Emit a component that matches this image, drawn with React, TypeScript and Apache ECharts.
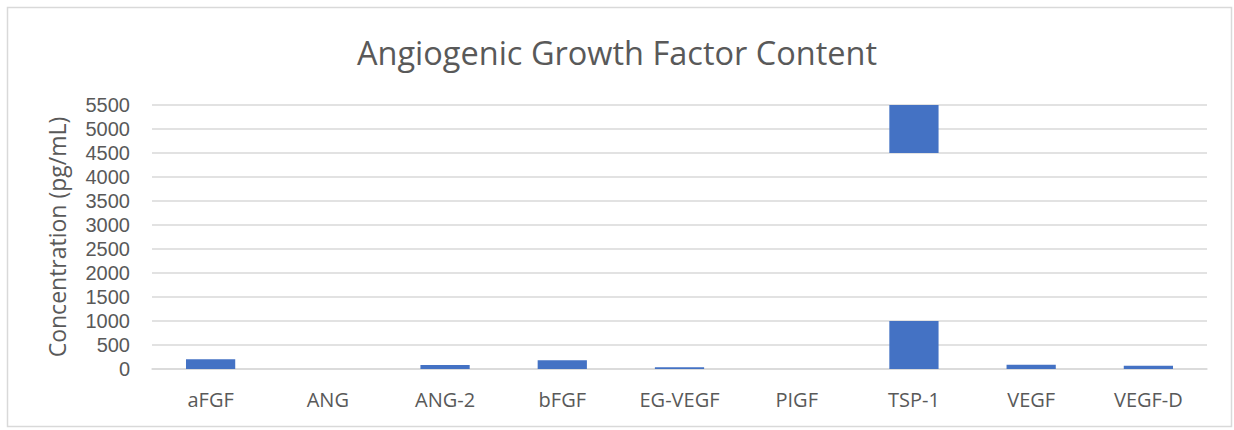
import React, { useEffect, useRef } from "react";
import * as echarts from "echarts";

const categories = ["aFGF", "ANG", "ANG-2", "bFGF", "EG-VEGF", "PIGF", "TSP-1", "VEGF", "VEGF-D"];
const concentrations = [205, 0, 85, 180, 35, 0, 5500, 90, 70];
const breakLow = 1000;
const breakHigh = 4500;
const yTicks = { min: 0, max: 5500, interval: 500 };

const lowerPart = concentrations.map((v) => (v > breakHigh ? breakLow : v));
const gapPart = concentrations.map((v) => (v > breakHigh ? breakHigh - breakLow : 0));
const upperPart = concentrations.map((v) => (v > breakHigh ? v - breakHigh : 0));

const FONT = "'Open Sans', 'Noto Sans', sans-serif";
const TICK_FONT = "'Liberation Sans', Arial, sans-serif";
const BAR = "#4472C4";

export default function App() {
  const ref = useRef<HTMLDivElement>(null);
  useEffect(() => {
    if (!ref.current) return;
    const chart = echarts.init(ref.current, null, { renderer: "svg" });
    chart.setOption({
      animation: false,
      backgroundColor: "#ffffff",
      title: {
        text: "Angiogenic Growth Factor Content",
        left: "center",
        top: 31,
        textStyle: { fontFamily: FONT, fontSize: 32.5, fontWeight: "normal", color: "#595959" },
      },
      graphic: [
        {
          type: "rect",
          shape: { x: 7.5, y: 7.5, width: 1224, height: 419 },
          style: { fill: "none", stroke: "#d9d9d9", lineWidth: 1.5 },
          silent: true,
        },
      ],
      grid: { left: 152, right: 27, top: 105, bottom: 61 },
      xAxis: {
        type: "category",
        data: categories,
        axisLine: { show: true, lineStyle: { color: "#d9d9d9", width: 1.5 } },
        axisTick: { show: false },
        axisLabel: { fontFamily: FONT, fontSize: 20, color: "#595959", margin: 20 },
      },
      yAxis: {
        type: "value",
        min: yTicks.min,
        max: yTicks.max,
        interval: yTicks.interval,
        name: "Concentration (pg/mL)",
        nameLocation: "middle",
        nameGap: 84,
        nameTextStyle: { fontFamily: FONT, fontSize: 23, color: "#595959" },
        axisLine: { show: false },
        axisTick: { show: false },
        axisLabel: {
          fontFamily: TICK_FONT,
          fontSize: 20,
          lineHeight: 21,
          color: "#595959",
          margin: 22,
          formatter: (v: number) => String(v),
        },
        splitLine: { lineStyle: { color: "#d9d9d9", width: 1.5 } },
      },
      series: [
        {
          type: "bar",
          stack: "c",
          data: lowerPart,
          barWidth: "42%",
          itemStyle: { color: BAR },
        },
        {
          type: "bar",
          stack: "c",
          data: gapPart,
          barWidth: "42%",
          itemStyle: { color: "rgba(0,0,0,0)" },
        },
        {
          type: "bar",
          stack: "c",
          data: upperPart,
          barWidth: "42%",
          itemStyle: { color: BAR },
        },
      ],
    });
    return () => chart.dispose();
  }, []);
  return (
    <div
      ref={ref}
      style={{ position: "absolute", left: 0, top: 0, width: 1234, height: 430 }}
    />
  );
}
